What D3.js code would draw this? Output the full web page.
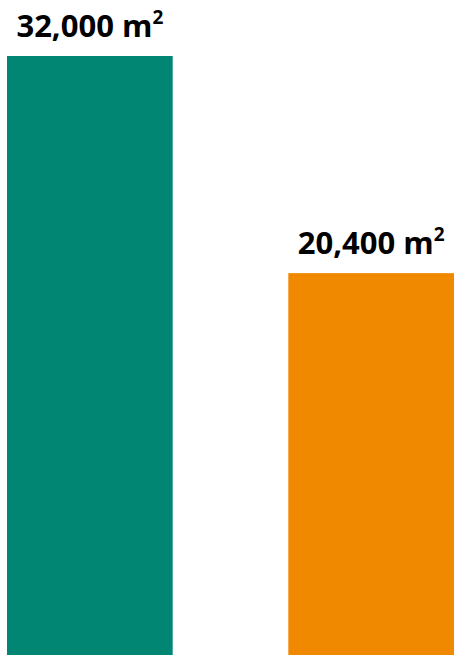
<!DOCTYPE html>
<html>
<head>
<meta charset="utf-8">
<script src="https://cdn.jsdelivr.net/npm/d3@7"></script>
<style>
html,body{margin:0;padding:0;background:#fff;}
svg{display:block;}
</style>
</head>
<body>
<svg id="chart" width="454" height="655"></svg>
<script>
const categories = ["Area A", "Area B"];
const values = [32000, 20400];
const labels = ["32,000 m", "20,400 m"];
const colors = ["#008672", "#F08800"];

const svg = d3.select("#chart");
const W = 454, H = 655;

const x = d3.scaleBand().domain(categories).range([7, 454]).paddingInner(0.411).paddingOuter(0);
const y = d3.scaleLinear().domain([0, 32000]).range([H, 56]);

svg.selectAll("rect.bar").data(categories).join("rect")
  .attr("class", "bar")
  .attr("x", d => x(d))
  .attr("width", x.bandwidth())
  .attr("y", (d, i) => y(values[i]))
  .attr("height", (d, i) => H - y(values[i]))
  .attr("fill", (d, i) => colors[i]);

const t = svg.selectAll("text.lbl").data(categories).join("text")
  .attr("class", "lbl")
  .attr("x", d => x(d) + x.bandwidth() / 2)
  .attr("y", (d, i) => y(values[i]) - 19)
  .attr("text-anchor", "middle")
  .attr("font-family", "'Open Sans', sans-serif")
  .attr("font-weight", "bold")
  .attr("font-size", 31)
  .attr("fill", "#000");
t.append("tspan").text((d, i) => labels[i]);
t.append("tspan").attr("font-size", 19).attr("dy", -13).text("2");
</script>
</body>
</html>
